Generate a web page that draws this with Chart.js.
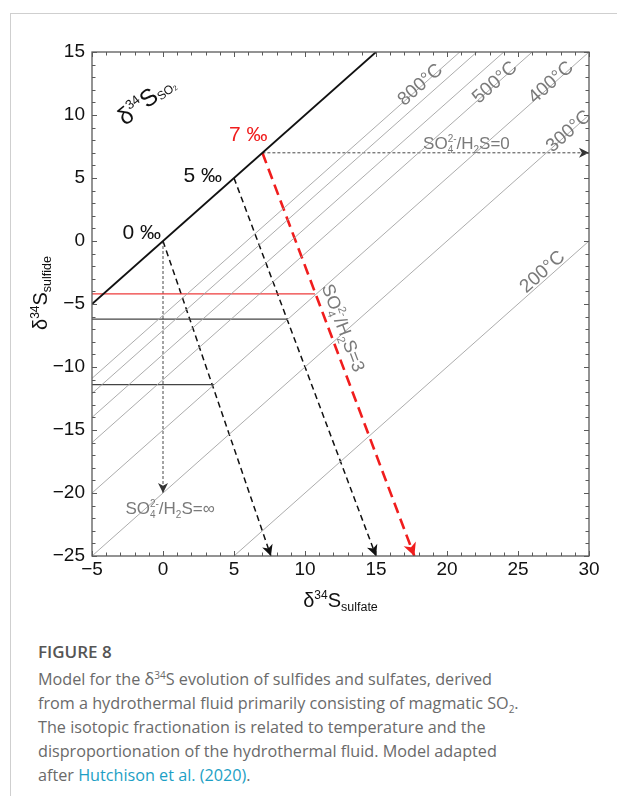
<!DOCTYPE html>
<html><head><meta charset="utf-8">
<script src="https://cdn.jsdelivr.net/npm/chart.js@4/dist/chart.umd.min.js"></script>
<style>
html,body{margin:0;padding:0;background:#fff;}
body{width:617px;height:796px;position:relative;overflow:hidden;}
#frame{position:absolute;left:10px;top:13px;right:-2px;bottom:-2px;border-left:1px solid #cfcfcf;border-top:1px solid #cfcfcf;}
#wrap{position:absolute;left:0;top:0;width:617px;height:620px;}
#cap{position:absolute;left:38px;top:640px;font-family:"Open Sans",sans-serif;color:#6a6a6a;font-size:16.2px;line-height:24px;white-space:nowrap;}
#cap .fig{font-weight:600;color:#555;font-size:17px;line-height:24px;margin-bottom:3px;}
#cap a{color:#1d9fc5;text-decoration:none;}
#cap sup,#cap sub{font-size:10px;line-height:0;}
</style></head>
<body>
<div id="frame"></div>
<div id="wrap"><canvas id="c" width="617" height="620"></canvas></div>
<div id="cap"><div class="fig">FIGURE 8</div>Model for the δ<sup>34</sup>S evolution of sulfides and sulfates, derived<br>from a hydrothermal fluid primarily consisting of magmatic SO<sub>2</sub>.<br>The isotopic fractionation is related to temperature and the<br>disproportionation of the hydrothermal fluid. Model adapted<br>after <a>Hutchison et al. (2020)</a>.</div>
<script>
// ---------- data ----------
const sulfateTicks = [-5, 0, 5, 10, 15, 20, 25, 30];
const sulfideTicks = [-25, -20, -15, -10, -5, 0, 5, 10, 15];
// δ34S(SO2) line (sulfate = sulfide)
const so2X = [-5, 15];
const so2Y = [-5, 15];
// isotherms (sulfide = sulfate − Δ), endpoints at frame
const isothermNames = ['800°C', '700°C', '600°C', '500°C', '400°C', '300°C', '200°C'];
const isoStartX = [-5, -5, -5, -5, -5, -5, 5];
const isoStartY = [-10.9, -12.1, -14.0, -16.0, -20.0, -25.0, -25.0];
const isoEndX = [20.9, 22.1, 24.0, 26.0, 30.0, 30.0, 30.0];
const isoEndY = [15, 15, 15, 15, 15, 10, 0];
// bulk fluid values (‰) and SO4/H2S = 3 trajectories
const bulkValues = [0, 5, 7];
const ratio3EndX = [7.6, 15.0, 17.7];
const ratio3EndY = [-25, -25, -25];
// sulfide at 400°C for each bulk value (horizontal guides)
const guideY = [-11.4, -6.2, -4.2];
const guideEndX = [3.6, 8.8, 10.7];
// SO4/H2S = ∞ and = 0 trajectories
const ratioInfEnd = [0, -20];
const ratio0End = [30, 7];

// ---------- annotation anchors (data coords) ----------
const tempLabelNames = ['800°C', '500°C', '400°C', '300°C', '200°C'];
const tempLabelX = [18.05, 23.3, 27.25, 28.5, 26.65];
const tempLabelY = [12.48, 12.67, 12.67, 8.79, -2.37];
const bulkLabelX = [-1.5, 2.8, 6.0];
const bulkLabelY = [0.69, 5.2, 8.5];

// ---------- build datasets ----------
const pt = (x, y) => ({x, y});
const datasets = [];
datasets.push({data: [pt(so2X[0], so2Y[0]), pt(so2X[1], so2Y[1])], borderColor: '#111', borderWidth: 1.8});
isothermNames.forEach((n, i) => datasets.push({label: n, data: [pt(isoStartX[i], isoStartY[i]), pt(isoEndX[i], isoEndY[i])], borderColor: '#a3a3a3', borderWidth: 0.9}));
guideY.forEach((v, i) => datasets.push({data: [pt(-5, v), pt(guideEndX[i], v)], borderColor: i === 2 ? '#ee3b3b' : '#444', borderWidth: 1.1}));
datasets.push({data: [pt(0, 0), pt(ratioInfEnd[0], ratioInfEnd[1])], borderColor: '#333', borderWidth: 0.9, borderDash: [3, 2], arrow: {len: 10, half: 5}});
datasets.push({data: [pt(7, 7), pt(ratio0End[0], ratio0End[1])], borderColor: '#333', borderWidth: 0.9, borderDash: [3, 2], arrow: {len: 10, half: 5}});
bulkValues.forEach((b, i) => {
  const red = b === 7;
  datasets.push({data: [pt(b, b), pt(ratio3EndX[i], ratio3EndY[i])], borderColor: red ? '#f01d1d' : '#111',
    borderWidth: red ? 2.6 : 1.5, borderDash: red ? [11, 6] : [6, 4], arrow: red ? {len: 13, half: 6.5} : {len: 11, half: 5.5}});
});
datasets.forEach(d => { d.showLine = true; d.pointRadius = 0; d.fill = false; d.tension = 0; });

const FONT = '"Liberation Sans", Arial, sans-serif';
const f = (s, w) => (w || '') + ' ' + s + 'px ' + FONT;

function rich(ctx, parts, cx, cy, ang, color, vshift) {
  ctx.save();
  ctx.translate(cx, cy);
  ctx.rotate(ang * Math.PI / 180);
  ctx.fillStyle = color;
  ctx.textBaseline = 'alphabetic';
  let w = 0;
  parts.forEach(p => {
    if (p.stack) {
      ctx.font = f(p.size); const a = ctx.measureText(p.stack[0]).width; const b = ctx.measureText(p.stack[1]).width;
      p.w = Math.max(a, b);
    } else { ctx.font = f(p.size, p.weight); p.w = ctx.measureText(p.t).width; }
    w += p.w;
  });
  let x = -w / 2;
  const base = vshift || 0;
  parts.forEach(p => {
    ctx.font = f(p.size, p.weight);
    if (p.stack) {
      ctx.fillText(p.stack[0], x, base + p.dy0);
      ctx.fillText(p.stack[1], x, base + p.dy1);
    } else ctx.fillText(p.t, x, base + (p.dy || 0));
    x += p.w;
  });
  ctx.restore();
}
function ratioParts(tail, size) {
  const s = size, m = Math.round(size * 0.6);
  return [{t: 'SO', size: s}, {stack: ['2-', '4'], size: m, dy0: -s * 0.42, dy1: s * 0.22},
          {t: '/H', size: s}, {t: '2', size: m, dy: s * 0.22}, {t: 'S=' + tail, size: s}];
}

const overlay = {
  id: 'overlay',
  afterDatasetsDraw(chart) {
    const {ctx, chartArea: a, scales: {x, y}} = chart;
    const px = v => x.getPixelForValue(v), py = v => y.getPixelForValue(v);
    ctx.save();
    // arrowheads
    chart.data.datasets.forEach(ds => {
      if (!ds.arrow) return;
      const d = ds.data, p1 = d[d.length - 2], p2 = d[d.length - 1];
      const x1 = px(p1.x), y1 = py(p1.y), x2 = px(p2.x), y2 = py(p2.y);
      const ang = Math.atan2(y2 - y1, x2 - x1);
      const {len, half} = ds.arrow;
      ctx.save(); ctx.translate(x2, y2); ctx.rotate(ang);
      ctx.fillStyle = ds.borderColor;
      ctx.beginPath(); ctx.moveTo(0, 0); ctx.lineTo(-len, -half); ctx.lineTo(-len * 0.72, 0); ctx.lineTo(-len, half); ctx.closePath(); ctx.fill();
      ctx.restore();
    });
    // frame
    ctx.strokeStyle = '#5a5a5a'; ctx.lineWidth = 1.3;
    ctx.strokeRect(a.left, a.top, a.width, a.height);
    ctx.lineWidth = 1;
    ctx.beginPath();
    for (let v = sulfateTicks[0]; v <= sulfateTicks[sulfateTicks.length - 1]; v++) {
      const X = Math.round(px(v)) + 0.5, L = v % 5 === 0 ? 5 : 3.5;
      ctx.moveTo(X, a.bottom); ctx.lineTo(X, a.bottom - L);
      ctx.moveTo(X, a.top); ctx.lineTo(X, a.top + L);
    }
    for (let v = sulfideTicks[0]; v <= sulfideTicks[sulfideTicks.length - 1]; v++) {
      const Y = Math.round(py(v)) + 0.5, L = v % 5 === 0 ? 5 : 3.5;
      ctx.moveTo(a.left, Y); ctx.lineTo(a.left + L, Y);
      ctx.moveTo(a.right, Y); ctx.lineTo(a.right - L, Y);
    }
    ctx.stroke();

    // temperature labels
    tempLabelNames.forEach((n, i) => rich(ctx, [{t: n, size: 19}], px(tempLabelX[i]), py(tempLabelY[i]), -41.6, '#7a7a7a', 7));
    // bulk labels
    bulkValues.forEach((b, i) => rich(ctx, [{t: b + ' ‰', size: 21}], px(bulkLabelX[i]), py(bulkLabelY[i]), 0, b === 7 ? '#f01d1d' : '#111', 7));
    // SO2 label
    rich(ctx, [{t: 'δ', size: 24}, {t: '34', size: 13, dy: -10}, {t: 'S', size: 24}, {t: 'SO', size: 12, dy: 2}, {t: '2', size: 7, dy: 3}],
      px(-1.2), py(11.2), -38, '#111', 8);
    // ratio labels
    rich(ctx, ratioParts('0', 17), px(21.37), py(7.79), 0, '#7a7a7a', 6);
    rich(ctx, ratioParts('3', 18), px(12.7), py(-6.89), 69.4, '#7a7a7a', 6);
    rich(ctx, ratioParts('∞', 17), px(0.5), py(-21.2), 0, '#7a7a7a', 6);

    // axis titles
    rich(ctx, [{t: 'δ', size: 20}, {t: '34', size: 12, dy: -8}, {t: 'S', size: 20}, {t: 'sulfate', size: 12.5, dy: 4}],
      (a.left + a.right) / 2, a.bottom + 44, 0, '#111', 7);
    rich(ctx, [{t: 'δ', size: 20}, {t: '34', size: 12, dy: -8}, {t: 'S', size: 20}, {t: 'sulfide', size: 12.5, dy: 4}],
      40, 293, -90, '#111', 7);
    ctx.restore();
  }
};

const tickCb = v => (v < 0 ? '−' + Math.abs(v) : '' + v);
new Chart(document.getElementById('c'), {
  type: 'scatter',
  data: {datasets},
  options: {
    responsive: false, animation: false, devicePixelRatio: 1,
    layout: {padding: {left: 0, right: 28, top: 52, bottom: 0}},
    plugins: {legend: {display: false}, tooltip: {enabled: false}, title: {display: false}},
    scales: {
      x: {type: 'linear', min: sulfateTicks[0], max: sulfateTicks[sulfateTicks.length - 1],
        afterFit: s => { s.height = 64; },
        afterBuildTicks: s => { s.ticks = sulfateTicks.map(v => ({value: v})); },
        grid: {display: false, drawTicks: false}, border: {display: false},
        ticks: {padding: 2, color: '#111', font: {family: FONT, size: 19}, callback: tickCb, maxRotation: 0, autoSkip: false}},
      y: {type: 'linear', min: sulfideTicks[0], max: sulfideTicks[sulfideTicks.length - 1],
        afterFit: s => { s.width = 92; },
        afterBuildTicks: s => { s.ticks = sulfideTicks.map(v => ({value: v})); },
        grid: {display: false, drawTicks: false}, border: {display: false},
        ticks: {padding: 7, color: '#111', font: {family: FONT, size: 19}, callback: tickCb, autoSkip: false}}
    }
  },
  plugins: [overlay]
});
</script>
</body></html>
